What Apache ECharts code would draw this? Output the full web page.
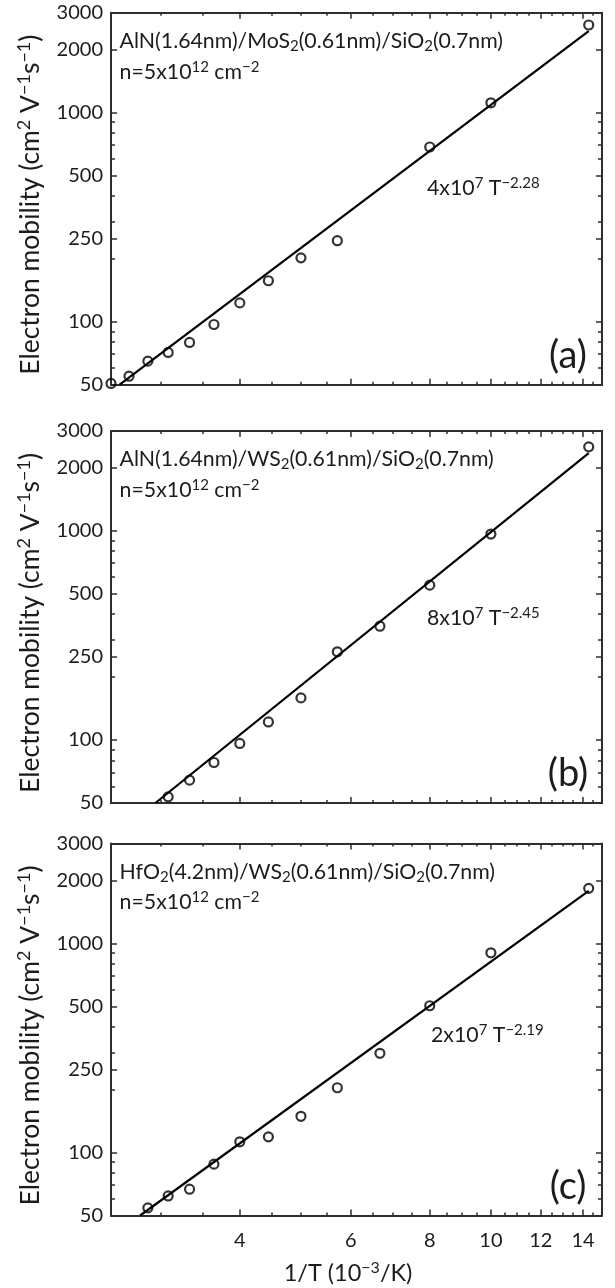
<!DOCTYPE html>
<html>
<head>
<meta charset="utf-8">
<title>Electron mobility vs 1/T</title>
<script src="https://cdn.jsdelivr.net/npm/echarts@6.0.0/dist/echarts.min.js"></script>
<style>
  html, body { margin: 0; padding: 0; background: #fff; }
  #mobility { width: 615px; height: 1288px; }
</style>
</head>
<body>
<div id="mobility"></div>
<script>
// 1/T in 10^-3 /K, mobility in cm2/Vs
var invTA = [2.50, 2.67, 2.86, 3.08, 3.33, 3.64, 4.00, 4.44, 5.00, 5.71, 8.00, 10.0, 14.29];
var muA   = [50.7, 54.9, 64.8, 71.3, 79.6, 97.0, 123, 157, 202, 244, 684, 1113, 2620];
var fitA  = [[2.58, 50], [14.29, 2450]];

var invTB = [3.08, 3.33, 3.64, 4.00, 4.44, 5.00, 5.71, 6.67, 8.00, 10.0, 14.29];
var muB   = [53.5, 64.3, 78.1, 96.3, 122, 159, 264, 350, 550, 965, 2520];
var fitB  = [[2.94, 50], [14.29, 2350]];

var invTC = [2.86, 3.08, 3.33, 3.64, 4.00, 4.44, 5.00, 5.71, 6.67, 8.00, 10.0, 14.29];
var muC   = [54.4, 62.0, 66.8, 88.0, 112.5, 118.8, 149, 204, 298, 503, 901, 1831];
var fitC  = [[2.78, 50], [14.29, 1780]];

var xMajorTicks = [4, 6, 8, 10, 12, 14];
var xMinorTicks = [3, 3.5, 4.5, 5, 5.5, 6.5, 7, 7.5, 8.5, 9, 9.5, 10.5, 11, 11.5, 12.5, 13, 13.5, 14.5];
var yMajorTicks = [50, 100, 250, 500, 1000, 2000, 3000];
var yMinorTicks = [60, 70, 80, 90, 200, 300, 400, 600, 700, 800, 900];

var stackLabels = [
    'AlN(1.64nm)/MoS{sub|2}(0.61nm)/SiO{sub|2}(0.7nm)',
    'AlN(1.64nm)/WS{sub|2}(0.61nm)/SiO{sub|2}(0.7nm)',
    'HfO{sub|2}(4.2nm)/WS{sub|2}(0.61nm)/SiO{sub|2}(0.7nm)'
];
var densityLabel = 'n=5x10{sup|12} cm{sup|\u22122}';
var fitLabels = ['4x10{sup|7} T{sup|\u22122.28}', '8x10{sup|7} T{sup|\u22122.45}', '2x10{sup|7} T{sup|\u22122.19}'];
var panelTags = ['(a)', '(b)', '(c)'];
var yTitle = 'Electron mobility (cm{ysup|2} V{ysup|\u22121}s{ysup|\u22121})';
var xTitle = '1/T (10{xsup|\u22123}/K)';

var FONT = 'Lato';
var INK = '#1c1c1c';
var FRAME = '#2e2e2e';

var gridTops = [12.7, 431, 843.5];
var fitTextX = [427, 427, 431];
var fitTextDy = [175.5, 187.3, 191.5];

var richScript = {
    sup: { fontFamily: FONT, fontSize: 15, lineHeight: 12, verticalAlign: 'top', fill: INK, color: INK },
    sub: { fontFamily: FONT, fontSize: 15, lineHeight: 14, verticalAlign: 'bottom', fill: INK, color: INK },
    ysup: { fontFamily: FONT, fontSize: 18, lineHeight: 15, verticalAlign: 'top', fill: INK, color: INK },
    xsup: { fontFamily: FONT, fontSize: 16, lineHeight: 13, verticalAlign: 'top', fill: INK, color: INK }
};

var panels = [[invTA, muA, fitA], [invTB, muB, fitB], [invTC, muC, fitC]];

function roundLabel(v) {
    return String(Math.round(v));
}

function tickLabels(v, show, values, margin) {
    var lab = { show: show, customValues: values, margin: margin, formatter: roundLabel };
    if (v.styled) {
        lab.fontFamily = FONT;
        lab.fontSize = 20;
        lab.color = INK;
    }
    return lab;
}

// one text either as a graphic element or as a title component
function addText(v, graphics, titles, x, y, text, size, lh, align) {
    if (v.graphic) {
        graphics.push({
            type: 'text', x: x, y: y,
            style: { text: text, fontFamily: FONT, fontSize: size, lineHeight: lh, fill: INK, align: align, verticalAlign: 'middle', rich: richScript }
        });
    } else {
        titles.push({
            left: x, top: y, padding: 0, textAlign: align, textVerticalAlign: 'middle', text: text,
            textStyle: { fontFamily: FONT, fontSize: size, lineHeight: lh, fontWeight: 'normal', color: INK, rich: richScript }
        });
    }
}

function buildOption(v) {
    var grids = [], xAxes = [], yAxes = [], series = [], graphics = [], titles = [];

    panels.forEach(function (p, i) {
        var xi = xAxes.length, yi = yAxes.length;
        var gTop = v.intGrid ? Math.round(gridTops[i]) : gridTops[i];
        grids.push({ left: 111, right: 13, top: gTop, height: 372 });

        // frame: bottom/top x axes and left/right y axes, each with a major and a minor tick layer
        ['bottom', 'top'].forEach(function (pos) {
            var main = {
                gridIndex: i, type: 'log', min: 2.5, max: 15, position: pos,
                axisLine: { show: true, lineStyle: { color: FRAME, width: 2 } },
                axisTick: { show: true, inside: true, length: 6, customValues: xMajorTicks, lineStyle: { color: FRAME, width: 1.5 } },
                axisLabel: tickLabels(v, pos === 'bottom' && i === 2, xMajorTicks, 15),
                splitLine: { show: false }
            };
            if (!v.graphic && pos === 'bottom' && i === 2) {
                main.name = xTitle;
                main.nameLocation = 'middle';
                main.nameGap = 45;
                main.nameTextStyle = { fontFamily: FONT, fontSize: 23.5, lineHeight: 27, color: INK, padding: [0, 16, 0, 0], rich: richScript };
            }
            xAxes.push(main);
            xAxes.push({
                gridIndex: i, type: 'log', min: 2.5, max: 15, position: pos,
                axisLine: { show: false },
                axisTick: { show: true, inside: true, length: 3, customValues: xMinorTicks, lineStyle: { color: FRAME, width: 1.5 } },
                axisLabel: { show: false },
                splitLine: { show: false }
            });
        });

        ['left', 'right'].forEach(function (pos) {
            var main = {
                gridIndex: i, type: 'log', min: 50, max: 3000, position: pos,
                axisLine: { show: true, lineStyle: { color: FRAME, width: 2 } },
                axisTick: { show: true, inside: true, length: 6, customValues: yMajorTicks, lineStyle: { color: FRAME, width: 1.5 } },
                axisLabel: tickLabels(v, pos === 'left', yMajorTicks, 8),
                splitLine: { show: false }
            };
            if (!v.graphic && pos === 'left') {
                main.name = yTitle;
                main.nameLocation = 'middle';
                main.nameGap = 66;
                main.nameRotate = 90;
                main.nameTextStyle = { fontFamily: FONT, fontSize: 26.5, lineHeight: 30, color: INK, rich: richScript };
            }
            yAxes.push(main);
            yAxes.push({
                gridIndex: i, type: 'log', min: 50, max: 3000, position: pos,
                axisLine: { show: false },
                axisTick: { show: true, inside: true, length: 4, customValues: yMinorTicks, lineStyle: { color: FRAME, width: 1.5 } },
                axisLabel: { show: false },
                splitLine: { show: false }
            });
        });

        if (v.lineSeries) {
            series.push({
                type: 'line', xAxisIndex: xi, yAxisIndex: yi,
                data: p[2], symbol: 'none', silent: true,
                lineStyle: { color: '#000', width: 2.2 }
            });
        }
        var dots = {
            type: 'scatter', xAxisIndex: xi, yAxisIndex: yi,
            data: p[0].map(function (x, k) { return [x, p[1][k]]; }),
            symbol: 'circle', symbolSize: 9,
            itemStyle: { color: 'rgba(0,0,0,0)', borderColor: '#000', borderWidth: 2.2 }
        };
        if (v.extras) {
            dots.clip = false;
        }
        if (!v.lineSeries) {
            dots.markLine = {
                silent: true, symbol: 'none', animation: false, label: { show: false },
                lineStyle: { color: '#000', width: 2.2, type: 'solid' },
                data: [[{ coord: p[2][0] }, { coord: p[2][1] }]]
            };
        }
        series.push(dots);

        if (v.graphic) {
            graphics.push({
                type: 'text', x: 30, y: gTop + 192, rotation: Math.PI / 2,
                style: { text: yTitle, fontFamily: FONT, fontSize: 26.5, lineHeight: 30, fill: INK, align: 'center', verticalAlign: 'middle', rich: richScript }
            });
        }
        addText(v, graphics, titles, 119.6, gTop + 28.5, stackLabels[i], 21.3, 25, 'left');
        addText(v, graphics, titles, 119.6, gTop + 59, densityLabel, 21.3, 25, 'left');
        addText(v, graphics, titles, fitTextX[i], gTop + fitTextDy[i], fitLabels[i], 21.3, 25, 'left');
        addText(v, graphics, titles, 568, gTop + 343, panelTags[i], 38, 42, 'center');
    });

    if (v.graphic) {
        graphics.push({
            type: 'text', x: 348, y: 1273,
            style: { text: xTitle, fontFamily: FONT, fontSize: 23.5, lineHeight: 27, fill: INK, align: 'center', verticalAlign: 'middle', rich: richScript }
        });
    }

    var opt = {
        animation: false,
        grid: grids,
        xAxis: xAxes,
        yAxis: yAxes,
        series: series
    };
    if (v.extras) opt.backgroundColor = '#fff';
    if (graphics.length) opt.graphic = graphics;
    if (titles.length) opt.title = titles;
    return opt;
}

// ways to build the same figure; the first one that draws its frame ticks is kept
var variants = [
    { graphic: true, lineSeries: true, styled: true, extras: true, intGrid: false },
    { graphic: false, lineSeries: true, styled: true, extras: true, intGrid: false },
    { graphic: true, lineSeries: false, styled: true, extras: true, intGrid: false },
    { graphic: false, lineSeries: false, styled: true, extras: true, intGrid: false },
    { graphic: false, lineSeries: false, styled: true, extras: false, intGrid: true },
    { graphic: false, lineSeries: false, styled: false, extras: false, intGrid: true }
];

var dom = document.getElementById('mobility');
var chart = echarts.init(dom);

function countTicks() {
    var n = 0;
    chart.getZr().storage.getDisplayList(true).forEach(function (el) {
        var s = el.shape;
        if (s && s.x1 !== undefined && Math.abs(s.x2 - s.x1) + Math.abs(s.y2 - s.y1) < 10) n++;
    });
    return n;
}

function settle(k) {
    if (k >= variants.length) {
        chart.setOption(buildOption(variants[0]), true);
        return;
    }
    try {
        chart.setOption(buildOption(variants[k]), true);
    } catch (e) {
        settle(k + 1);
        return;
    }
    if (countTicks() > 200) {
        setTimeout(function () {
            if (countTicks() <= 200) settle(k + 1);
        }, 60);
    } else {
        settle(k + 1);
    }
}

settle(0);
</script>
</body>
</html>
